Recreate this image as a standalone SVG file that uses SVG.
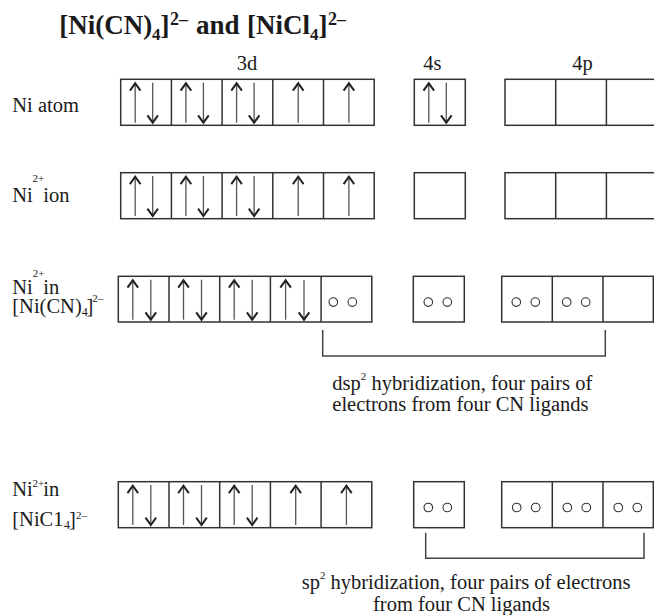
<svg xmlns="http://www.w3.org/2000/svg" xmlns:xlink="http://www.w3.org/1999/xlink" width="654" height="615" viewBox="0 0 654 615">
<style>
  .bg{fill:#ffffff}
  .box{fill:none;stroke:#333;stroke-width:1.5}
  .shaft{fill:none;stroke:#555;stroke-width:1.3}
  .head{fill:none;stroke:#222;stroke-width:2}
  .dot{fill:none;stroke:#333;stroke-width:1.1}
  .brk{fill:none;stroke:#444;stroke-width:1.5}
  text{font-family:"Liberation Serif","Times New Roman",serif;fill:#1a1a1a}
  .lbl{font-size:20.5px}
  .sup{font-size:11px}
  .sub{font-size:12px}
  .title{font-size:27px;font-weight:bold}
  .tsub{font-size:17px}
  .tsup{font-size:18px}
</style>
<defs>
  <g id="up"><path class="shaft" d="M0,4.5V43.4"/><path class="head" d="M-5.3,11.4L0,4L5.3,11.4"/></g>
  <g id="dn"><path class="shaft" d="M0,3.4V42.8"/><path class="head" d="M-5.3,36L0,43.4L5.3,36"/></g>
  <g id="oo"><circle class="dot" cx="0" cy="25.8" r="4.3"/><circle class="dot" cx="19" cy="25.8" r="4.3"/></g>
</defs>
<rect class="bg" x="0" y="0" width="654" height="615"/>

<g id="title">
  <text class="title" y="34"><tspan x="59.3">[Ni(CN)</tspan><tspan class="tsub" x="152" y="40">4</tspan><tspan x="160.5" y="34">]</tspan><tspan class="tsup" x="170" y="25">2–</tspan><tspan x="196" y="34">and</tspan><tspan x="247" y="34">[NiCl</tspan><tspan class="tsub" x="310" y="40">4</tspan><tspan x="318.5" y="34">]</tspan><tspan class="tsup" x="328" y="25">2–</tspan></text>
</g>

<g id="orbital-labels">
  <text class="lbl" x="236.7" y="70">3d</text>
  <text class="lbl" x="423.3" y="69.5">4s</text>
  <text class="lbl" x="572.3" y="69.5">4p</text>
</g>

<!-- Row 1: Ni atom -->
<g id="row-ni-atom">
  <text class="lbl" x="12.3" y="111.5">Ni atom</text>
  <g id="ni-atom-3d">
    <rect class="box" x="120.7" y="79.3" width="253.5" height="46"/>
    <path class="box" d="M171.4,79.3V125.3M222.1,79.3V125.3M272.8,79.3V125.3M323.5,79.3V125.3"/>
    <use xlink:href="#up" x="135.2" y="79.3"/><use xlink:href="#dn" x="152.7" y="79.3"/>
    <use xlink:href="#up" x="185.9" y="79.3"/><use xlink:href="#dn" x="203.4" y="79.3"/>
    <use xlink:href="#up" x="236.6" y="79.3"/><use xlink:href="#dn" x="254.1" y="79.3"/>
    <use xlink:href="#up" x="298.2" y="79.3"/>
    <use xlink:href="#up" x="348.9" y="79.3"/>
  </g>
  <g id="ni-atom-4s">
    <rect class="box" x="414.3" y="79.3" width="51" height="46"/>
    <use xlink:href="#up" x="428.8" y="79.3"/><use xlink:href="#dn" x="446.3" y="79.3"/>
  </g>
  <g id="ni-atom-4p">
    <rect class="box" x="505" y="79.3" width="152" height="46"/>
    <path class="box" d="M555.7,79.3V125.3M606.4,79.3V125.3"/>
  </g>
</g>

<!-- Row 2: Ni2+ ion -->
<g id="row-ni-ion">
  <text class="lbl" x="12.3" y="201.7">Ni</text>
  <text class="sup" x="32.5" y="181.7">2+</text>
  <text class="lbl" x="43.3" y="201.7">ion</text>
  <g id="ni-ion-3d">
    <rect class="box" x="120.7" y="172.7" width="253.5" height="46"/>
    <path class="box" d="M171.4,172.7V218.7M222.1,172.7V218.7M272.8,172.7V218.7M323.5,172.7V218.7"/>
    <use xlink:href="#up" x="135.2" y="172.7"/><use xlink:href="#dn" x="152.7" y="172.7"/>
    <use xlink:href="#up" x="185.9" y="172.7"/><use xlink:href="#dn" x="203.4" y="172.7"/>
    <use xlink:href="#up" x="236.6" y="172.7"/><use xlink:href="#dn" x="254.1" y="172.7"/>
    <use xlink:href="#up" x="298.2" y="172.7"/>
    <use xlink:href="#up" x="348.9" y="172.7"/>
  </g>
  <g id="ni-ion-4s">
    <rect class="box" x="414.3" y="172.7" width="51" height="46"/>
  </g>
  <g id="ni-ion-4p">
    <rect class="box" x="505" y="172.7" width="152" height="46"/>
    <path class="box" d="M555.7,172.7V218.7M606.4,172.7V218.7"/>
  </g>
</g>

<!-- Row 3: Ni2+ in [Ni(CN)4]2- -->
<g id="row-ni-cn">
  <text class="lbl" x="12.3" y="294">Ni</text>
  <text class="sup" x="32.8" y="277">2+</text>
  <text class="lbl" x="43.3" y="294">in</text>
  <text class="lbl" x="12.3" y="312.7">[Ni(CN)</text>
  <text class="sub" x="81.7" y="315.5">4</text>
  <text class="lbl" x="86.5" y="312.7">]</text>
  <text class="sup" x="92.3" y="302">2–</text>
  <g id="ni-cn-3d">
    <rect class="box" x="118.3" y="276.3" width="253.5" height="45.7"/>
    <path class="box" d="M169,276.3V322M219.7,276.3V322M270.4,276.3V322M321.1,276.3V322"/>
    <use xlink:href="#up" x="132.8" y="276.3"/><use xlink:href="#dn" x="150.8" y="276.3"/>
    <use xlink:href="#up" x="183.5" y="276.3"/><use xlink:href="#dn" x="201.5" y="276.3"/>
    <use xlink:href="#up" x="234.2" y="276.3"/><use xlink:href="#dn" x="252.2" y="276.3"/>
    <use xlink:href="#up" x="285.6" y="276.3"/><use xlink:href="#dn" x="304" y="276.3"/>
    <use xlink:href="#oo" x="333.3" y="276.3"/>
  </g>
  <g id="ni-cn-4s">
    <rect class="box" x="413.3" y="276.3" width="51" height="45.7"/>
    <use xlink:href="#oo" x="428.3" y="276.3"/>
  </g>
  <g id="ni-cn-4p">
    <rect class="box" x="501.7" y="276.3" width="151.6" height="45.7"/>
    <path class="box" d="M552.3,276.3V322M603,276.3V322"/>
    <use xlink:href="#oo" x="516.3" y="276.3"/>
    <use xlink:href="#oo" x="566.7" y="276.3"/>
  </g>
  <text class="lbl" x="332.3" y="390">dsp<tspan class="sup" dy="-10">2</tspan><tspan dy="10"> hybridization, four pairs of</tspan></text>
  <text class="lbl" x="332.3" y="411">electrons from four CN ligands</text>
</g>

<!-- Row 4: Ni2+ in [NiCl4]2- -->
<g id="row-ni-cl">
  <text class="lbl" x="12.3" y="495.7">Ni</text>
  <text class="sup" x="32.5" y="487.3">2+</text>
  <text class="lbl" x="43.3" y="495.7">in</text>
  <text class="lbl" x="12.3" y="525.7">[NiC1</text>
  <text class="sub" x="64" y="528.5">4</text>
  <text class="lbl" x="69" y="525.7">]</text>
  <text class="sup" x="76" y="519">2–</text>
  <g id="ni-cl-3d">
    <rect class="box" x="118.3" y="481.7" width="253.5" height="46"/>
    <path class="box" d="M169,481.7V527.7M219.7,481.7V527.7M270.4,481.7V527.7M321.1,481.7V527.7"/>
    <use xlink:href="#up" x="132.8" y="481.7"/><use xlink:href="#dn" x="150.8" y="481.7"/>
    <use xlink:href="#up" x="183.5" y="481.7"/><use xlink:href="#dn" x="201.5" y="481.7"/>
    <use xlink:href="#up" x="234.2" y="481.7"/><use xlink:href="#dn" x="252.2" y="481.7"/>
    <use xlink:href="#up" x="295.7" y="481.7"/>
    <use xlink:href="#up" x="346.4" y="481.7"/>
  </g>
  <g id="ni-cl-4s">
    <rect class="box" x="413.7" y="481.7" width="50.6" height="46"/>
    <use xlink:href="#oo" x="428.3" y="481.7"/>
  </g>
  <g id="ni-cl-4p">
    <rect class="box" x="501.7" y="481.7" width="151.6" height="46"/>
    <path class="box" d="M552.3,481.7V527.7M603,481.7V527.7"/>
    <use xlink:href="#oo" x="516.7" y="481.7"/>
    <use xlink:href="#oo" x="567.3" y="481.7"/>
    <use xlink:href="#oo" x="618.3" y="481.7"/>
  </g>
  <text class="lbl" x="301.7" y="589">sp<tspan class="sup" dy="-10">2</tspan><tspan dy="10"> hybridization, four pairs of electrons</tspan></text>
  <text class="lbl" x="373" y="611">from four CN ligands</text>
</g>

<g id="connectors">
  <path class="brk" d="M322.7,330V356H605.3V330"/>
  <path class="brk" d="M425.7,532.7V558.3H644V532.7"/>
</g>
</svg>
